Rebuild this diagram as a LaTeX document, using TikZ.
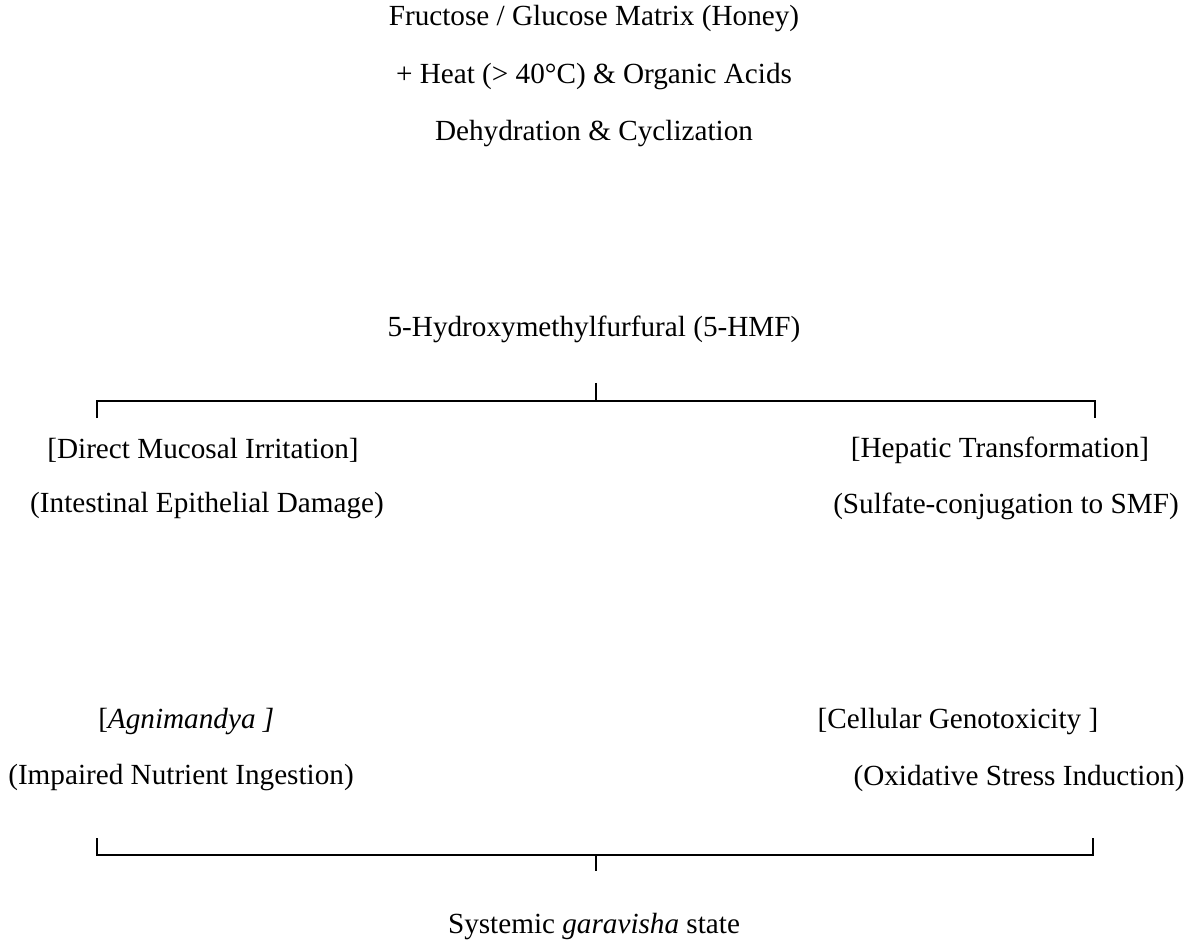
\documentclass[tikz,border=0pt]{standalone}
\usepackage{fontspec}
\setmainfont{Liberation Serif}
\begin{document}
\begin{tikzpicture}[x=0.75pt,y=-0.75pt,
  lbl/.style={inner sep=0pt,font=\fontsize{21.9}{26}\selectfont},
  brk/.style={line width=1.5pt}]
\useasboundingbox (0,0) rectangle (1187,944);
\node[lbl] (l1) at (594,19) {Fructose / Glucose Matrix (Honey)};
\node[lbl] (l2) at (594,77) {+ Heat (> 40°C) \& Organic Acids};
\node[lbl] (l3) at (594,134) {Dehydration \& Cyclization};
\node[lbl] (hmf) at (594,329) {5-Hydroxymethylfurfural (5-HMF)};
\node[lbl] (dmi) at (203,450) {[Direct Mucosal Irritation]};
\node[lbl] (ht) at (1000,450) {[Hepatic Transformation]};
\node[lbl] (ied) at (207,506) {(Intestinal Epithelial Damage)};
\node[lbl] (scs) at (1006,506) {(Sulfate-conjugation to SMF)};
\node[lbl,anchor=west] (ag) at (98,722) {[\textit{Agnimandya ]}};
\node[lbl] (cg) at (958,722) {[Cellular Genotoxicity ]};
\node[lbl] (ini) at (181,778) {(Impaired Nutrient Ingestion)};
\node[lbl] (osi) at (1019,778) {(Oxidative Stress Induction)};
\node[lbl] (sgs) at (594,927) {Systemic \textit{garavisha} state};
% top bracket
\coordinate (tc) at (596,383);
\coordinate (tm) at (596,401);
\coordinate (tl) at (97,401);
\coordinate (tr) at (1095,401);
\coordinate (tld) at (97,418);
\coordinate (trd) at (1095,418);
\draw[brk] (tc) -- (tm);
\draw[brk] (tld) -- (tl) -- (tr) -- (trd);
% bottom bracket
\coordinate (bl) at (97,855);
\coordinate (br) at (1093,855);
\coordinate (blu) at (97,838);
\coordinate (bru) at (1093,838);
\coordinate (bm) at (596,855);
\coordinate (bd) at (596,871);
\draw[brk] (blu) -- (bl) -- (br) -- (bru);
\draw[brk] (bm) -- (bd);
\end{tikzpicture}
\end{document}
